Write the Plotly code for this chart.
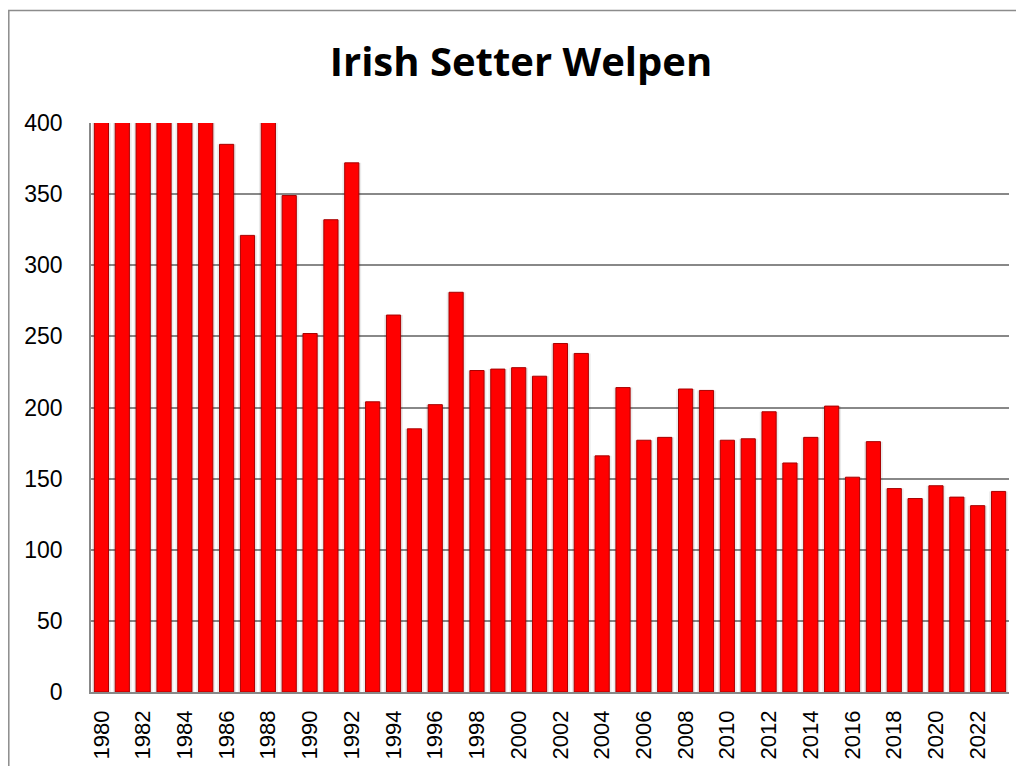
import plotly.graph_objects as go

years = list(range(1980, 2024))
# bars for 1980-1985 and 1988 run past the 400 ceiling (clipped in the original)
puppies = [610, 640, 590, 560, 520, 470, 385, 321, 415, 349,
           252, 332, 372, 204, 265, 185, 202, 281, 226, 227,
           228, 222, 245, 238, 166, 214, 177, 179, 213, 212,
           177, 178, 197, 161, 179, 201, 151, 176, 143, 136,
           145, 137, 131, 141]
title_text = "Irish Setter Welpen"
y_ticks = [0, 50, 100, 150, 200, 250, 300, 350, 400]

fig = go.Figure()
# soft shadow behind bars
fig.add_trace(go.Bar(
    x=years, y=puppies, width=0.9,
    marker=dict(color="rgba(0,0,0,0.08)", line=dict(width=0)),
    hoverinfo="skip", showlegend=False,
))
fig.add_trace(go.Bar(
    x=years, y=puppies, width=0.68,
    marker=dict(color="#ff0000", line=dict(color="#a80000", width=1)),
    showlegend=False,
))

# page body has an 8px margin, so the figure starts at (8, 8) of the window
W, H = 1008, 758
L, R, T, B = 83, 7, 115, 74
pw, ph = W - L - R, H - T - B

fig.update_layout(
    width=W, height=H,
    margin=dict(l=L, r=R, t=T, b=B, autoexpand=False),
    paper_bgcolor="white", plot_bgcolor="white",
    barmode="overlay",
    title=dict(text=f"<b>{title_text}</b>", x=513 / W, xanchor="center",
               y=1 - 54 / H, yanchor="middle",
               font=dict(family="Open Sans", size=40, color="black")),
    font=dict(family="Liberation Sans, Arial", color="black"),
    xaxis=dict(range=[1979.5, 2023.5], tickmode="array",
               tickvals=years[::2], ticktext=[str(y) for y in years[::2]],
               tickangle=-90, tickfont=dict(size=22), showgrid=False,
               showline=True, linecolor="#888888", linewidth=1.5,
               ticks="outside", ticklen=8, tickcolor="rgba(0,0,0,0)",
               zeroline=False, automargin=False),
    yaxis=dict(range=[0, 400], tickvals=y_ticks, tickfont=dict(size=23),
               showgrid=True, gridcolor="#888888", gridwidth=1.5,
               showline=True, linecolor="#888888", linewidth=1.5,
               ticks="outside", ticklen=22, tickcolor="rgba(0,0,0,0)",
               zeroline=False, automargin=False),
    shapes=[dict(type="rect", xref="paper", yref="paper",
                 x0=(0.8 - L) / pw, x1=(W + 20 - L) / pw,
                 y0=-(B + 20) / ph, y1=(H - B - 2.5) / ph,
                 line=dict(color="#8c8c8c", width=1.5), fillcolor="rgba(0,0,0,0)",
                 layer="below")],
)

fig.write_html("out.html")
